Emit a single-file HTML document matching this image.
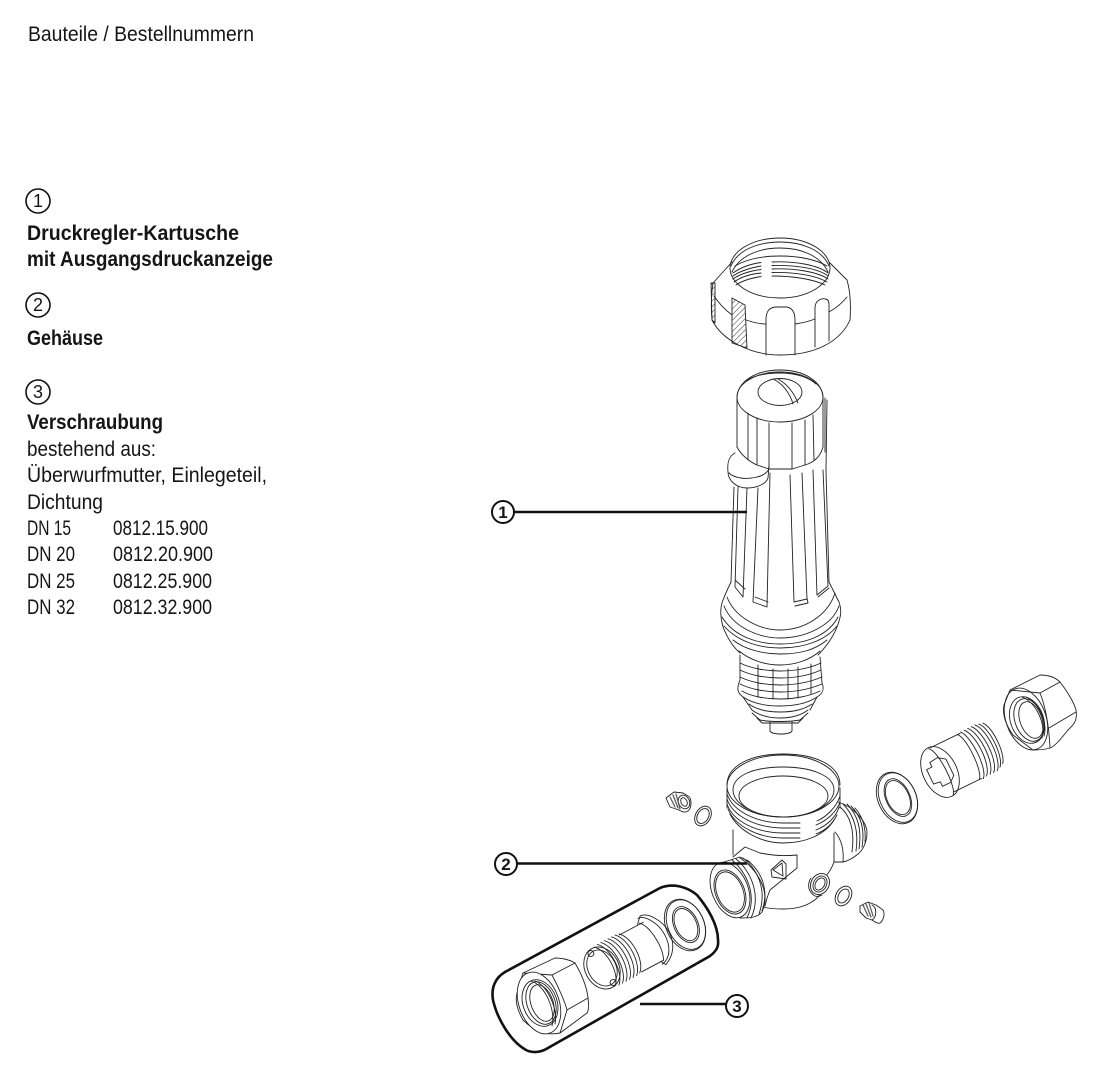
<!DOCTYPE html>
<html><head><meta charset="utf-8"><style>
html,body{margin:0;padding:0;background:#fff}
svg{display:block}
text{font-family:"Liberation Sans",sans-serif;fill:#151515;font-size:21px}
.b{font-weight:bold}
.n{font-size:17px;text-anchor:middle;font-weight:bold}
.m{font-size:18px;text-anchor:middle}
.d{fill:none;stroke:#222;stroke-width:.9;stroke-linejoin:round;stroke-linecap:round}
.d *{fill:none}
.l{fill:none;stroke:#111;stroke-width:2.6}
.c{fill:#fff;stroke:#111;stroke-width:2}
</style></head><body>
<svg width="1110" height="1080" viewBox="0 0 1110 1080" xmlns="http://www.w3.org/2000/svg">
<defs><pattern id="h" width="4" height="4" patternUnits="userSpaceOnUse" patternTransform="rotate(-45)"><line x1="0" y1="0" x2="4" y2="0" stroke="#222" stroke-width=".9"/></pattern></defs>
<rect width="1110" height="1080" fill="#fff"/>

<!-- Text -->
<text x="28" y="41" textLength="226" lengthAdjust="spacingAndGlyphs">Bauteile / Bestellnummern</text>
<circle class="c" cx="38" cy="201" r="12" style="stroke-width:1.6"/><text class="m" x="38" y="207">1</text>
<text class="b" x="27" y="240" textLength="212" lengthAdjust="spacingAndGlyphs">Druckregler-Kartusche</text>
<text class="b" x="27" y="266" textLength="246" lengthAdjust="spacingAndGlyphs">mit Ausgangsdruckanzeige</text>
<circle class="c" cx="38" cy="305" r="12" style="stroke-width:1.6"/><text class="m" x="38" y="311">2</text>
<text class="b" x="27" y="345" textLength="76" lengthAdjust="spacingAndGlyphs">Gehäuse</text>
<circle class="c" cx="38" cy="392" r="12" style="stroke-width:1.6"/><text class="m" x="38" y="398">3</text>
<text class="b" x="27" y="429" textLength="136" lengthAdjust="spacingAndGlyphs">Verschraubung</text>
<text x="27" y="456" textLength="129" lengthAdjust="spacingAndGlyphs">bestehend aus:</text>
<text x="27" y="482" textLength="240" lengthAdjust="spacingAndGlyphs">Überwurfmutter, Einlegeteil,</text>
<text x="27" y="509" textLength="76" lengthAdjust="spacingAndGlyphs">Dichtung</text>
<text x="27" y="535" textLength="44" lengthAdjust="spacingAndGlyphs">DN 15</text><text x="113" y="535" textLength="95" lengthAdjust="spacingAndGlyphs">0812.15.900</text>
<text x="27" y="561" textLength="48" lengthAdjust="spacingAndGlyphs">DN 20</text><text x="113" y="561" textLength="100" lengthAdjust="spacingAndGlyphs">0812.20.900</text>
<text x="27" y="588" textLength="48" lengthAdjust="spacingAndGlyphs">DN 25</text><text x="113" y="588" textLength="99" lengthAdjust="spacingAndGlyphs">0812.25.900</text>
<text x="27" y="614" textLength="48" lengthAdjust="spacingAndGlyphs">DN 32</text><text x="113" y="614" textLength="99" lengthAdjust="spacingAndGlyphs">0812.32.900</text>

<!-- Ring nut -->
<g class="d">
<path d="M732 262L713 283C711 295 711 310 712 320C722 340 750 355 780 355C815 355 840 342 850 320C851 305 850 290 847 280L829 262"/>
<ellipse cx="780" cy="268" rx="50" ry="30"/>
<path d="M731 266C738 249 760 242 780 242C800 242 822 249 829 266"/>
<path d="M732 272C740 255 760 248 780 248C800 248 820 255 828 272"/>
<path d="M735 266C745 260 760 256 780 256C800 256 817 260 827 266"/>
<path d="M733 273C740 268 750 264 761 262.500M772 262C795 261 818 265 828 273"/>
<path d="M733 276C740 271 750 268 761 266M772 265.500C795 265 818 268 828 276"/>
<path d="M733 279C740 274 750 271 761 269.500M772 269C795 268 818 272 828 279"/>
<path d="M734 282C741 277 750 274 761 273M772 272.500C793 272 815 275 827 282"/>
<path d="M736 285C743 280 752 278 761 276.500M772 276C792 276 813 279 825 285"/>
<path d="M714 296C720 305 728 312 732 315M746 320C755 323 760 324 766 324M795 324C802 323 810 321 815 319M829 312C838 307 843 302 847 297"/>
<path d="M766 355V320C766 310 770 308 775 307H787C792 308 795 312 795 320V355"/>
<path d="M815 347V308C815 300 822 298 825 299C828 299 829 302 829 305V341"/>
<path d="M732 298L745 305L747 348L732 343Z" style="fill:url(#h)"/>
<path d="M711 283H715V323L712 320Z" style="fill:url(#h)"/>
</g>

<!-- Cartridge -->
<g class="d">
<!-- cap -->
<ellipse cx="780" cy="397" rx="43" ry="25"/>
<path d="M737 397C738 382 755 370 780 370C805 370 822 382 823 397"/>
<path d="M745 381C755 375 768 373 780 373C795 373 808 377 816 384"/>
<ellipse cx="780" cy="392" rx="22" ry="13.500"/>
<path d="M773 379C782 383 790 393 793 404M778 379C787 384 794 393 798 403"/>
<path d="M737 397V447M823 397V447M825 398V452M827 400L826 470"/>
<path d="M748 413V460M757 418V465M769 423V469H792V423M805 420V465M813 415L814 460"/>
<path d="M737 447C741 455 750 462 757 465L769 469M792 469L805 465C812 463 820 458 823 447"/>
<!-- tab -->
<path d="M735 453C729 456 727 462 728 472C728 480 736 488 747 488C757 488 766 484 768 478"/>
<path d="M729 473C734 478 746 480 757 477C762 476 767 473 769 469"/>
<path d="M769 465L768 478"/>
<!-- body -->
<path d="M734 487L731 582M738 487L735 587L743 597M747 488L743 597M745 589L735 580"/>
<path d="M758 488L753 602L767 607L770 473M755 597L768 602"/>
<path d="M790 475L794 602L807 599L802 473M795 606L808 603L807 598"/>
<path d="M813 470L817 595L828 586L823 470M818 597L829 588"/>
<path d="M826 470L829 582"/>
<!-- collar -->
<path d="M731 582C727 590 725 595 723 600C720 608 720 615 723 627C727 637 733 647 740 653"/>
<path d="M829 582C833 590 836 596 839 602C842 610 841 617 837 627C833 637 826 647 818 655"/>
<path d="M727 597C735 618 760 630 780 630C805 630 828 615 835 593"/>
<path d="M724 606C733 628 760 638 780 638C805 638 832 626 839 606"/>
<path d="M722 617C735 638 760 644 780 644C805 644 828 636 838 617"/>
<path d="M724 626C738 642 760 648 780 648C805 648 826 640 837 626"/>
<path d="M733 640C745 650 765 654 780 654C800 654 815 650 827 640"/>
<path d="M739 651C750 660 765 665 780 665C795 665 810 660 820 651"/>
<!-- filter -->
<path d="M740 655V680C736 690 738 693 743 697L752 710M820 657L822 683C825 690 822 694 817 697L810 710"/>
<path d="M740 663C750 668 765 671 780 671C795 671 810 668 821 663M740 670C750 675 765 678 780 678C795 678 810 675 821 670M740 677C750 682 765 685 780 685C795 685 810 682 822 677M740 684C750 689 765 692 780 692C795 692 810 689 822 684M742 691C750 696 765 699 780 699C795 699 810 696 820 691"/>
<path d="M758 665L758 697M773 669V699M788 669V699M798 667V698M811 664L811 694"/>
<path d="M743 697C752 703 765 706 780 706C795 706 808 703 817 697M749 704C757 710 767 712 780 712C793 712 803 710 812 704M752 710C760 716 770 718 780 718C790 718 800 716 808 710M752 713L760 720C770 722 790 722 800 720L808 713M757 718L762 723H798L803 718"/>
<path d="M770 722V731C772 735 790 735 792 731V722"/>
</g>

<!-- Housing -->
<g class="d">
<!-- right port -->
<path d="M838 802C852 806 866 820 867 832C867 842 863 850 858 854C852 859 848 861 843 862L834 862"/>
<path d="M840 807C850 815 855 830 852 852M843 804C854 815 859 830 856 851M847 804C858 815 862 830 859 849M851 806C861 816 865 830 862 847M855 808C864 818 866 830 865 842"/>
<path d="M835 832C842 840 844 850 843 862"/>
<!-- neck/bottom -->
<path d="M733 830V855M834 833V862C831 870 826 878 820 880"/>
<path d="M763 907C770 909 777 909 783 909C793 909 803 907 810 903C815 900 818 898 820 894"/>
<!-- threads & top -->
<path d="M727 785C727 765 752 754 783 754C815 754 840 765 840 785"/>
<ellipse cx="783" cy="786" rx="56" ry="31"/>
<path d="M733 790C733 775 755 767 783 767C810 767 834 775 834 790C834 805 810 817 783 817C757 817 733 805 733 790Z"/>
<path d="M739 796C739 785 758 776 783 776C808 776 828 785 828 796C828 807 808 817 783 817C758 817 739 807 739 796Z"/>
<path d="M727 788V808M840 788V808"/>
<path d="M727 794C733 812 758 823 783 823H800M817 821C826 817 836 808 840 796"/>
<path d="M727 799C733 817 758 828 783 828H800M816 825C826 821 836 813 840 802"/>
<path d="M727 804C733 822 758 833 783 833H800M816 830C826 826 836 818 839 807"/>
<path d="M728 809C735 826 758 838 783 838H800M816 834C824 831 832 825 837 815"/>
<path d="M730 814C738 830 760 843 783 843C805 843 825 835 834 820"/>
<!-- saddle -->
<path d="M733 857L745 847L760 853C775 856 785 856 797 855V868L770 890L767 898L765 906"/>
<path d="M771 870L782 860L786 864V879L772 877Z"/>
<path d="M773 870L782 863L783 876Z"/>
<!-- small boss -->
<path d="M811 878C807 884 808 892 815 896C818 897 820 896 822 895"/>
<ellipse cx="820" cy="884" rx="9" ry="11" transform="rotate(30 820 884)" style="fill:#fff"/>
<ellipse cx="820" cy="884" rx="6.500" ry="8.500" transform="rotate(30 820 884)"/>
<ellipse cx="820" cy="884" rx="4.500" ry="6.500" transform="rotate(30 820 884)"/>
<!-- front port -->
<path d="M718 864L740 857L750 862L768 888L761 912L740 918Z" style="fill:#fff;stroke:none"/>
<path d="M718 864L740 857L750 862"/>
<path d="M740 858C755 868 772 890 762 912C758 917 752 918 740 918"/>
<path d="M743 858C756 868 768 888 759 914M747 860C760 870 770 888 762 911"/>
<path d="M736 859C750 870 762 895 751 918M732 860C746 872 758 895 747 918"/>
<ellipse cx="730" cy="890" rx="18" ry="29" transform="rotate(-22 730 890)" style="fill:#fff"/>
<ellipse cx="730" cy="892" rx="13" ry="21" transform="rotate(-22 730 892)"/>
<ellipse cx="730" cy="892" rx="14.500" ry="23" transform="rotate(-22 730 892)"/>
</g>

<!-- Right fitting -->
<g class="d">
<g transform="translate(897 798) rotate(-25)"><ellipse rx="19" ry="27"/><ellipse rx="18" ry="26" cx="1"/><ellipse rx="12" ry="20" cx="1"/><ellipse rx="11" ry="18" cx="1"/></g>
<g transform="translate(940 772) rotate(-26)">
<path d="M2 -26L35 -26M4 24L35 24"/>
<ellipse rx="17" ry="27"/>
<path d="M-11 -8L-5 -8L-5 -13L4 -14L11 -9V9L5 14L-4 14L-4 9L-11 8Z"/>
<path d="M0 -26C8 -20 8 20 2 26"/>
<path d="M32 -26C39 -20 39 18 32 24M36 -27C44 -18 44 18 36 25M40 -27C49 -18 49 16 40 24M44 -27C53 -18 53 16 44 24M48 -27C57 -18 57 16 48 24M52 -27C61 -18 61 16 52 24M56 -26C64 -18 64 14 56 22M60 -25C67 -18 67 12 60 20"/>
</g>
<path d="M1010 690L1040 675C1050 675 1056 678 1060 682C1068 692 1074 703 1076 710C1078 722 1072 726 1068 730C1060 740 1055 746 1050 748C1044 750 1038 750 1033 750L1013 735C1006 725 1002 715 1004 705Z" style="fill:#fff"/>
<path d="M1010 690L1040 693L1060 682M1040 693C1045 705 1049 725 1050 748M1049 728L1076 712"/>
<ellipse cx="1026" cy="719" rx="20" ry="32" transform="rotate(-20 1026 719)"/>
<ellipse cx="1027" cy="720" rx="16.500" ry="24" transform="rotate(-20 1027 720)"/>
<ellipse cx="1029" cy="720" rx="14" ry="22" transform="rotate(-20 1029 720)"/>
<ellipse cx="1031" cy="720" rx="11" ry="19" transform="rotate(-20 1031 720)"/>
<path d="M1022 697C1035 702 1046 722 1042 738M1026 697C1038 702 1048 722 1044 736"/>
</g>

<!-- Small plugs -->
<g class="d">
<path d="M666 798L674 792L683 793L688 796C692 798 692 808 688 811C685 813 682 812 679 810L670 807Z"/>
<ellipse cx="684" cy="802" rx="5.500" ry="7" transform="rotate(-25 684 802)"/>
<ellipse cx="684" cy="802" rx="3" ry="4.500" transform="rotate(-25 684 802)"/>
<path d="M670 797L675 807M673 795L678 808M676 794L680 809" style="stroke-width:1.200;stroke:#555"/>
<ellipse cx="703" cy="816" rx="7.500" ry="10.500" transform="rotate(30 703 816)"/>
<ellipse cx="703" cy="816" rx="5.500" ry="8" transform="rotate(30 703 816)"/>
<ellipse cx="843.500" cy="896" rx="7.500" ry="10.500" transform="rotate(30 843.500 896)"/>
<ellipse cx="843.500" cy="896" rx="5" ry="7.500" transform="rotate(30 843.500 896)"/>
<path d="M860 906L868 902L876 905L883 910C885 913 884 920 880 923C878 924 875 922 872 920L866 918L860 912Z"/>
<path d="M872 905C877 907 877 917 872 920"/>
<path d="M863 905L868 916M866 904L871 917M869 903L873 916" style="stroke-width:1.200;stroke:#555"/>
</g>

<!-- Group 3 -->
<g class="d">
<g transform="translate(685 925) rotate(-25)"><ellipse rx="19" ry="27"/><ellipse rx="18" ry="26" cx="1"/><ellipse rx="12" ry="19" cx="1"/><ellipse rx="10.500" ry="17" cx="1"/></g>
<g transform="translate(602 968) rotate(-28)">
<ellipse rx="17" ry="22"/><ellipse rx="14" ry="19"/>
<circle cx="-3" cy="-18" r="3"/><circle cx="3" cy="18" r="3"/>
<path d="M3 -22C13 -14 13 14 3 22M7 -23C17 -14 17 14 7 23M11 -23C21 -14 21 14 11 23M15 -23C25 -14 25 14 15 23M19 -23C29 -14 29 14 19 23M23 -23C33 -14 33 14 23 23M27 -23C37 -14 37 14 27 23M31 -22C41 -14 41 14 31 22"/>
<path d="M31 -21H58M33 22H58"/>
<path d="M58 -28C66 -28 76 -14 76 0C76 12 70 22 58 27"/>
<path d="M55 -27C62 -27 71 -14 71 0C71 12 66 23 55 25"/>
<path d="M52 -22L58 -28M55 22L58 27"/>
<path d="M54 -22C62 -15 64 10 58 22"/>
</g>
<path d="M523 973L555 958C563 958 570 960 575 963C582 975 587 988 588 998C589 1005 589 1010 587 1013L560 1033C555 1034 549 1034 543 1033C535 1030 528 1025 523 1020C517 1010 515 1000 517 993Z" style="fill:#fff"/>
<path d="M523 973L552 975L575 963M552 975C560 990 566 1005 567 1010L560 1033M567 1010L588 998"/>
<ellipse cx="539" cy="1003" rx="20" ry="32" transform="rotate(-20 539 1003)" style="fill:#fff"/>
<ellipse cx="540" cy="1003" rx="17" ry="24" transform="rotate(-20 540 1003)"/>
<ellipse cx="541" cy="1003" rx="14" ry="22" transform="rotate(-20 541 1003)"/>
<ellipse cx="542" cy="1003" rx="11" ry="19" transform="rotate(-20 542 1003)"/>
<path d="M531 981C545 985 556 1010 552 1026M535 981C547 985 558 1008 555 1024"/>
</g>

<!-- Capsule -->
<path d="M505 972L660 888C672 883 686 886 697 895C708 908 718 925 718 940C719 948 715 952 710 956L548 1048C540 1053 532 1053 526 1050C510 1041 497 1018 493 1000C491 988 495 978 505 972Z" fill="none" stroke="#111" stroke-width="2.600"/>

<!-- Leaders -->
<line class="l" x1="514" y1="512" x2="747" y2="512"/>
<line class="l" x1="517" y1="863.500" x2="747" y2="863.500"/>
<path class="l" d="M640 1004H727"/>
<circle class="c" cx="503" cy="512" r="11"/><text class="n" x="503" y="518">1</text>
<circle class="c" cx="506" cy="864" r="11"/><text class="n" x="506" y="870">2</text>
<circle class="c" cx="737" cy="1006" r="11"/><text class="n" x="737" y="1012">3</text>
</svg>
</body></html>
